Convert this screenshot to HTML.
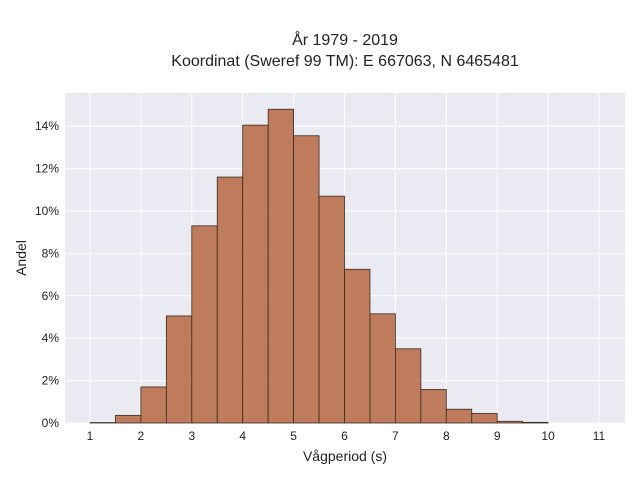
<!DOCTYPE html>
<html><head><meta charset="utf-8"><style>
body{margin:0;background:#fff;font-family:"Liberation Sans",sans-serif;}
svg text{font-family:"Liberation Sans",sans-serif;fill:#222;}
</style></head><body>
<svg width="640" height="480">
<text x="345" y="45" font-size="16" text-anchor="middle">År 1979 - 2019</text>
<text x="345" y="66" font-size="16" text-anchor="middle">Koordinat (Sweref 99 TM): E 667063, N 6465481</text>
<rect x="65" y="93" width="560" height="330" fill="#eaeaf2"/>
<g id="grid"></g><g id="bars"></g><g id="ticks"></g>
<text x="345" y="461" font-size="14" text-anchor="middle">Vågperiod (s)</text>
<text transform="translate(26,258) rotate(-90)" font-size="14" text-anchor="middle">Andel</text>
</svg>
<script>
const binStarts=[1,1.5,2,2.5,3,3.5,4,4.5,5,5.5,6,6.5,7,7.5,8,8.5,9,9.5];
const shares=[0.02,0.36,1.7,5.05,9.3,11.6,14.05,14.8,13.55,10.7,7.25,5.15,3.5,1.58,0.65,0.45,0.08,0.03];
const xTicks=[1,2,3,4,5,6,7,8,9,10,11];
const yTicks=[0,2,4,6,8,10,12,14];
const binWidth=0.5;
const NS="http://www.w3.org/2000/svg";
const xs=v=>90+(v-1)*50.9;
const ys=v=>423-v*21.2;
const grid=document.getElementById('grid'),bars=document.getElementById('bars'),ticks=document.getElementById('ticks');
function mk(tag,attrs,parent){const e=document.createElementNS(NS,tag);for(const k in attrs)e.setAttribute(k,attrs[k]);parent.appendChild(e);return e;}
xTicks.forEach(t=>{
 const l=mk('line',{x1:xs(t),x2:xs(t),y1:93,y2:423,stroke:'#fff','stroke-width':1},grid);
 
 
 const tx=mk('text',{x:xs(t),y:440,'font-size':12,'text-anchor':'middle'},ticks);
 tx.textContent=t;
 
 
});
yTicks.forEach(t=>{
 const l=mk('line',{x1:65,x2:625,y1:ys(t),y2:ys(t),stroke:'#fff','stroke-width':1},grid);
 
 
 const tx=mk('text',{x:59,y:ys(t)+4,'font-size':12,'text-anchor':'end'},ticks);
 tx.textContent=t+'%';
 
 
});
binStarts.forEach((s,i)=>{
 const x0=xs(s),x1=xs(s+binWidth),y=ys(shares[i]);
 const r=mk('rect',{x:x0,y:y,width:x1-x0,height:423-y,fill:'#bd7653','fill-opacity':0.95,stroke:'#3a2a20','stroke-width':0.8},bars);
 
 
});
</script>
</body></html>
